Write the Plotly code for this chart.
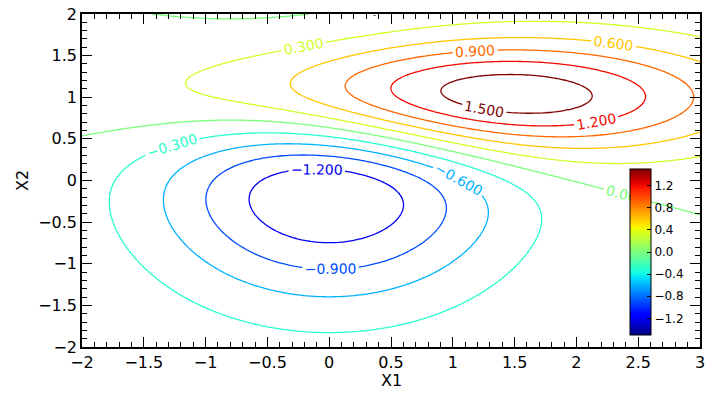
import numpy as np
import plotly.graph_objects as go

# ---- data: field domain and the two bivariate-normal bumps ----
x_range = [-2.0, 3.0]
y_range = [-2.0, 2.0]
grid_step = 0.025
bump_neg = [0.0, 0.0, 1.0, 1.0]   # mu_x, mu_y, sigma_x, sigma_y
bump_pos = [1.0, 1.0, 1.5, 0.5]
amplitude = 10.0
level_start, level_end, level_step = -1.2, 1.5, 0.3
color_min, color_max = -1.5, 1.5
cbar_ticks = [-1.2, -0.8, -0.4, 0.0, 0.4, 0.8, 1.2]
cbar_text = ["\u22121.2", "\u22120.8", "\u22120.4", "0.0", "0.4", "0.8", "1.2"]

x = np.arange(x_range[0], x_range[1] + grid_step / 2, grid_step)
y = np.arange(y_range[0], y_range[1] + grid_step / 2, grid_step)
X, Y = np.meshgrid(x, y)


def bivariate(X, Y, mx, my, sx, sy):
    return np.exp(-((X - mx) ** 2 / (2 * sx ** 2) + (Y - my) ** 2 / (2 * sy ** 2))) / (2 * np.pi * sx * sy)


Z = amplitude * (bivariate(X, Y, *bump_pos) - bivariate(X, Y, *bump_neg))

# matplotlib 'jet' colormap
R = [(0, 0), (0.35, 0), (0.66, 1), (0.89, 1), (1, 0.5)]
G = [(0, 0), (0.125, 0), (0.375, 1), (0.64, 1), (0.91, 0), (1, 0)]
B = [(0, 0.5), (0.11, 1), (0.34, 1), (0.65, 0), (1, 0)]


def jet_rgb(t):
    def seg(pts):
        xs, vs = zip(*pts)
        return float(np.interp(t, xs, vs))
    return "rgb(%d,%d,%d)" % (round(255 * seg(R)), round(255 * seg(G)), round(255 * seg(B)))


jet = [[float(t), jet_rgb(t)] for t in np.linspace(0, 1, 81)]
# plotly maps line colours from first to last level; re-map so levels follow the colour bar
line_scale = []
for t in np.linspace(0, 1, 55):
    v = level_start + t * (level_end - level_start)
    line_scale.append([float(t), jet_rgb((v - color_min) / (color_max - color_min))])

FONT = "DejaVu Sans"
W, H = 722, 394
L, Rm, T, Bm = 82, 22, 14, 47
PW, PH = W - L - Rm, H - T - Bm


def px(xp):
    return (xp - L) / PW


def py(yp):
    return (H - Bm - yp) / PH


fig = go.Figure()
fig.add_trace(go.Contour(
    x=x, y=y, z=Z, colorscale=line_scale, autocontour=False,
    contours=dict(coloring="lines", start=level_start, end=level_end, size=level_step,
                  showlabels=True, labelformat=".3f",
                  labelfont=dict(size=14, family=FONT)),
    line=dict(width=1.3), showscale=False, hoverinfo="skip",
))
fig.add_trace(go.Scatter(
    x=[np.nan, np.nan], y=[np.nan, np.nan], mode="markers", showlegend=False, hoverinfo="skip",
    marker=dict(color=[color_min, color_max], cmin=color_min, cmax=color_max, colorscale=jet, showscale=True,
                colorbar=dict(x=px(630), xanchor="left", y=py(335), yanchor="bottom",
                              len=166, lenmode="pixels", thickness=21, thicknessmode="pixels",
                              xpad=0, ypad=0, outlinecolor="black", outlinewidth=1,
                              ticks="inside", ticklen=4, tickcolor="black",
                              tickvals=cbar_ticks, ticktext=cbar_text,
                              tickfont=dict(size=12, family=FONT, color="black"))),
))

axis_common = dict(
    showgrid=False, zeroline=False, showline=True, linecolor="black", linewidth=1.5,
    mirror="ticks", ticks="inside", ticklen=10, tickwidth=1, tickcolor="black", dtick=0.5,
    minor=dict(ticks="inside", ticklen=5, dtick=0.1, tickcolor="black", tickwidth=1),
    tickfont=dict(size=16, family=FONT, color="black"),
    automargin=False, ticklabeloverflow="allow",
)
fig.update_xaxes(range=x_range, **axis_common)
fig.update_yaxes(range=y_range, **axis_common)

fig.add_annotation(text="X1", x=px(391), y=py(380), xref="paper", yref="paper", showarrow=False,
                   xanchor="center", yanchor="middle", font=dict(size=16, family=FONT, color="black"))
fig.add_annotation(text="X2", x=px(22), y=py(181), xref="paper", yref="paper", showarrow=False,
                   textangle=-90, xanchor="center", yanchor="middle",
                   font=dict(size=16, family=FONT, color="black"))
fig.add_annotation(text="-", x=px(374), y=py(9), xref="paper", yref="paper",
                   showarrow=False, font=dict(size=8, family=FONT, color="black"))

fig.update_layout(
    width=W, height=H, margin=dict(l=L, r=Rm, t=T, b=Bm, autoexpand=False),
    plot_bgcolor="white", paper_bgcolor="white", showlegend=False,
    font=dict(family=FONT, color="black"),
)
fig.write_html("out.html", config={"displayModeBar": False},
               post_script="document.body.style.margin='0';document.body.style.overflow='hidden';")
